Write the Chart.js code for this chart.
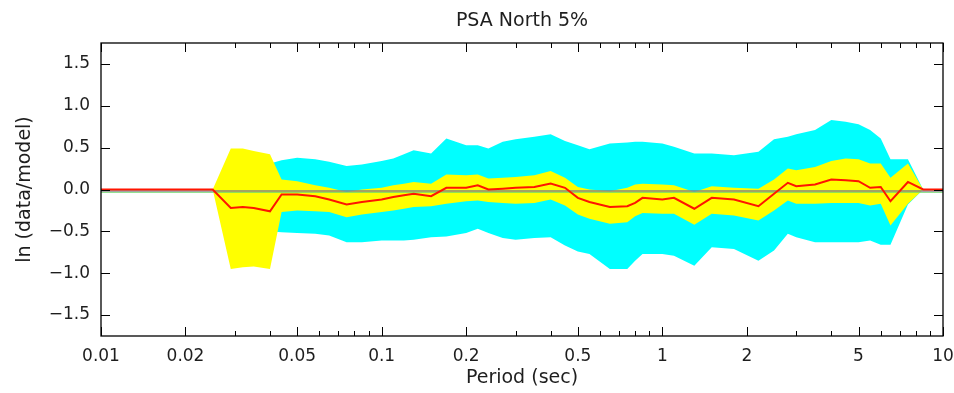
<!DOCTYPE html>
<html>
<head>
<meta charset="utf-8">
<script src="https://cdn.jsdelivr.net/npm/chart.js@4.4.1/dist/chart.umd.min.js"></script>
<style>
  html, body { margin: 0; padding: 0; background: #ffffff; }
  canvas { display: block; }
</style>
</head>
<body>
<canvas id="chart" width="954" height="393"></canvas>
<script>
// Oscillator periods (sec)
const periods = [0.01, 0.025, 0.029, 0.032, 0.035, 0.04, 0.044, 0.05, 0.058, 0.065,
  0.075, 0.085, 0.1, 0.11, 0.12, 0.13, 0.15, 0.17, 0.2, 0.22,
  0.24, 0.27, 0.3, 0.35, 0.4, 0.45, 0.5, 0.55, 0.65, 0.75,
  0.8, 0.85, 1.0, 1.1, 1.3, 1.5, 1.8, 2.2, 2.5, 2.8,
  3.0, 3.5, 4.0, 4.5, 5.0, 5.5, 6.0, 6.5, 7.5, 8.5, 10];

// Mean ln residual
const meanResidual = [0, 0, -0.22, -0.21, -0.22, -0.26, -0.06, -0.06, -0.08, -0.12,
  -0.18, -0.15, -0.12, -0.09, -0.07, -0.05, -0.08, 0.02, 0.02, 0.05,
  0.0, 0.01, 0.02, 0.03, 0.07, 0.02, -0.10, -0.15, -0.21, -0.20,
  -0.16, -0.10, -0.12, -0.10, -0.23, -0.10, -0.12, -0.20, -0.05, 0.08,
  0.04, 0.06, 0.12, 0.11, 0.10, 0.02, 0.03, -0.14, 0.09, 0, 0];

// Inner band (yellow)
const innerUpper = [0, 0, 0.49, 0.49, 0.46, 0.42, 0.12, 0.10, 0.05, 0.02,
  -0.03, 0.0, 0.02, 0.05, 0.07, 0.09, 0.07, 0.18, 0.17, 0.18,
  0.13, 0.14, 0.15, 0.17, 0.22, 0.14, 0.03, 0.0, -0.02, 0.02,
  0.06, 0.07, 0.06, 0.05, -0.03, 0.04, 0.02, 0.01, 0.12, 0.25,
  0.23, 0.27, 0.34, 0.37, 0.36, 0.31, 0.31, 0.14, 0.31, 0, 0];
const innerLower = [0, 0, -0.95, -0.93, -0.92, -0.95, -0.27, -0.25, -0.26, -0.27,
  -0.33, -0.30, -0.27, -0.25, -0.23, -0.21, -0.20, -0.17, -0.14, -0.13,
  -0.15, -0.16, -0.17, -0.16, -0.12, -0.19, -0.30, -0.35, -0.41, -0.39,
  -0.32, -0.28, -0.29, -0.29, -0.42, -0.29, -0.31, -0.37, -0.25, -0.13,
  -0.17, -0.17, -0.16, -0.16, -0.16, -0.19, -0.17, -0.43, -0.17, 0, 0];

// Outer band (cyan)
const outerUpper = [0, 0, 0.20, 0.24, 0.27, 0.31, 0.35, 0.38, 0.36, 0.33,
  0.28, 0.30, 0.34, 0.37, 0.42, 0.47, 0.43, 0.61, 0.53, 0.53,
  0.49, 0.57, 0.60, 0.63, 0.66, 0.58, 0.53, 0.48, 0.55, 0.56,
  0.57, 0.57, 0.55, 0.51, 0.43, 0.43, 0.41, 0.45, 0.60, 0.63,
  0.66, 0.71, 0.83, 0.81, 0.78, 0.71, 0.61, 0.36, 0.36, 0, 0];
const outerLower = [0, 0, -0.40, -0.44, -0.47, -0.50, -0.51, -0.52, -0.53, -0.55,
  -0.63, -0.63, -0.61, -0.61, -0.61, -0.60, -0.57, -0.56, -0.52, -0.47,
  -0.52, -0.58, -0.60, -0.58, -0.57, -0.67, -0.74, -0.77, -0.95, -0.95,
  -0.85, -0.77, -0.77, -0.79, -0.91, -0.69, -0.71, -0.85, -0.73, -0.53,
  -0.57, -0.63, -0.63, -0.63, -0.63, -0.61, -0.66, -0.66, -0.18, 0, 0];

// Axis ticks
const xTickValues = [0.01, 0.02, 0.05, 0.1, 0.2, 0.5, 1, 2, 5, 10];
const xTickLabels = ['0.01', '0.02', '0.05', '0.1', '0.2', '0.5', '1', '2', '5', '10'];
const xMinorValues = [0.03, 0.04, 0.06, 0.07, 0.08, 0.09, 0.3, 0.4, 0.6, 0.7, 0.8, 0.9,
  3, 4, 6, 7, 8, 9];
const yTickValues = [-1.5, -1.0, -0.5, 0.0, 0.5, 1.0, 1.5];
const yTickLabels = ['\u22121.5', '\u22121.0', '\u22120.5', '0.0', '0.5', '1.0', '1.5'];

const FONT = 'DejaVu Sans';
const TEXT = '#1e1e1e';

const pts = arr => periods.map((p, i) => ({ x: p, y: arr[i] }));

// Zero reference lines, drawn just before the mean curve
const zeroLines = {
  id: 'zeroLines',
  beforeDatasetDraw(chart, args) {
    if (args.index !== 0) return;
    const { ctx, chartArea: a, scales: { y } } = chart;
    const y0 = y.getPixelForValue(0);
    ctx.save();
    ctx.beginPath();
    ctx.rect(a.left, a.top, a.right - a.left, a.bottom - a.top);
    ctx.clip();
    ctx.strokeStyle = 'rgba(110, 215, 110, 0.75)';
    ctx.lineWidth = 1;
    ctx.beginPath();
    ctx.moveTo(a.left, y0 + 3);
    ctx.lineTo(a.right, y0 + 3);
    ctx.stroke();
    ctx.strokeStyle = '#858585';
    ctx.lineWidth = 1.7;
    ctx.beginPath();
    ctx.moveTo(a.left, y0 + 1.5);
    ctx.lineTo(a.right, y0 + 1.5);
    ctx.stroke();
    ctx.restore();
  }
};

// Box frame with inward ticks on all four sides
const frameTicks = {
  id: 'frameTicks',
  afterDatasetsDraw(chart) {
    const { ctx, chartArea: a, scales: { x, y } } = chart;
    const major = 9, minor = 5;
    ctx.save();
    ctx.strokeStyle = '#000000';
    ctx.lineWidth = 1;
    ctx.beginPath();
    const vTick = (v, len) => {
      const px = Math.round(x.getPixelForValue(v)) + 0.5;
      ctx.moveTo(px, a.bottom); ctx.lineTo(px, a.bottom - len);
      ctx.moveTo(px, a.top); ctx.lineTo(px, a.top + len);
    };
    xTickValues.forEach(v => vTick(v, major));
    xMinorValues.forEach(v => vTick(v, minor));
    yTickValues.forEach(v => {
      const py = Math.round(y.getPixelForValue(v)) + 0.5;
      ctx.moveTo(a.left, py); ctx.lineTo(a.left + major, py);
      ctx.moveTo(a.right, py); ctx.lineTo(a.right - major, py);
    });
    ctx.stroke();
    ctx.lineWidth = 1.3;
    ctx.strokeRect(a.left, a.top, a.right - a.left, a.bottom - a.top);
    ctx.restore();
  }
};

const band = (data, color, fill) => ({
  data: pts(data),
  borderWidth: 0,
  borderColor: 'rgba(0,0,0,0)',
  backgroundColor: color,
  pointRadius: 0,
  fill: fill,
  tension: 0
});

new Chart(document.getElementById('chart'), {
  type: 'line',
  data: {
    datasets: [
      {
        data: pts(meanResidual),
        borderColor: '#ff1500',
        borderWidth: 2,
        pointRadius: 0,
        fill: false,
        tension: 0
      },
      band(innerUpper, '#ffff00', '+1'),
      band(innerLower, '#ffff00', false),
      band(outerUpper, '#00ffff', '+1'),
      band(outerLower, '#00ffff', false)
    ]
  },
  options: {
    responsive: false,
    animation: false,
    devicePixelRatio: 1,
    layout: { padding: { left: 0, right: 11, top: 0, bottom: 0 } },
    plugins: {
      legend: { display: false },
      tooltip: { enabled: false },
      title: {
        display: true,
        text: 'PSA North 5%',
        fullSize: false,
        color: TEXT,
        font: { family: FONT, size: 19, weight: 'normal' },
        padding: { top: 10, bottom: 10.2 }
      }
    },
    scales: {
      x: {
        type: 'logarithmic',
        min: 0.01,
        max: 10,
        afterBuildTicks: s => { s.ticks = xTickValues.map(v => ({ value: v })); },
        afterFit: s => { s.height = 57; s.paddingLeft = 0; s.paddingRight = 0; },
        grid: { display: false, drawTicks: false },
        border: { display: false },
        ticks: {
          autoSkip: false,
          maxRotation: 0,
          minRotation: 0,
          padding: 10,
          color: TEXT,
          font: { family: FONT, size: 17 },
          callback: (v, i) => xTickLabels[i]
        },
        title: {
          display: true,
          text: 'Period (sec)',
          color: TEXT,
          font: { family: FONT, size: 19 },
          padding: { top: 0, bottom: 4 }
        }
      },
      y: {
        min: -1.75,
        max: 1.75,
        afterBuildTicks: s => { s.ticks = yTickValues.map(v => ({ value: v })); },
        afterFit: s => { s.width = 101; s.paddingTop = 0; s.paddingBottom = 0; },
        grid: { display: false, drawTicks: false },
        border: { display: false },
        ticks: {
          padding: 11,
          color: TEXT,
          font: { family: FONT, size: 17 },
          callback: (v, i) => yTickLabels[i]
        },
        title: {
          display: true,
          text: 'ln (data/model)',
          color: TEXT,
          font: { family: FONT, size: 19 },
          padding: { top: 14, bottom: 0 }
        }
      }
    }
  },
  plugins: [zeroLines, frameTicks]
});
</script>
</body>
</html>
